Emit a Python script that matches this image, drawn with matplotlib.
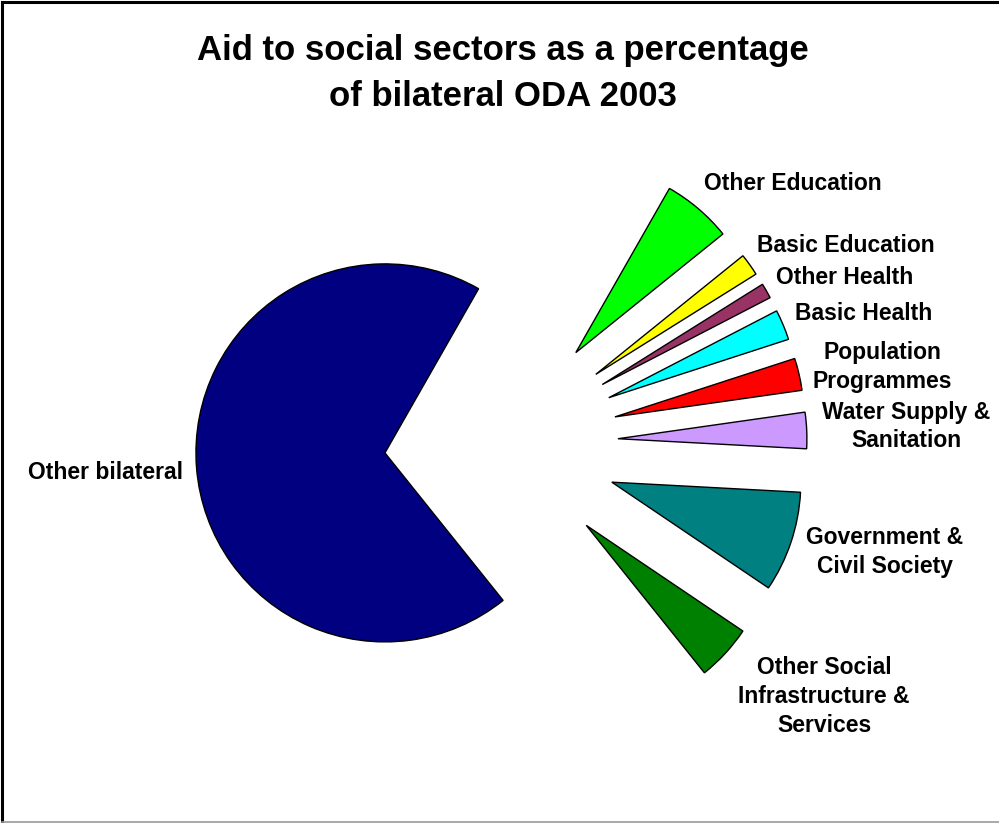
import matplotlib
matplotlib.use("Agg")
import matplotlib.pyplot as plt
from matplotlib.lines import Line2D

# ---- data (percent of bilateral ODA 2003) ----
categories = [
    "Other bilateral",
    "Other Social\nInfrastructure &\nServices",
    "Government &\nCivil Society",
    "Water Supply &\nSanitation",
    "Population\nProgrammes",
    "Basic Health",
    "Other Health",
    "Basic Education",
    "Other Education",
]
values = [69.0, 4.8, 8.6, 3.1, 2.75, 2.6, 1.3, 1.9, 5.95]
colors = ["#000080", "#008000", "#008080", "#CC99FF", "#FF0000",
          "#00FFFF", "#993366", "#FFFF00", "#00FF00"]
explode = [0.6, 0.635, 0.635, 0.635, 0.635, 0.635, 0.635, 0.635, 0.635]
title = "Aid to social sectors as a percentage\nof bilateral ODA 2003"

# label centers in pixel coordinates (layout)
label_pos = [(105, 472), (824, 696.5), (885, 552), (906, 426.5), (882, 367),
             (864, 313), (845, 277), (846, 246), (792.5, 183)]

W, H = 999, 823
CX, CY, R = 498, 444, 189

fig = plt.figure(figsize=(W / 100, H / 100), dpi=100)
fig.patch.set_facecolor("white")
ax = fig.add_axes([0, 0, 1, 1])

wedges, _ = ax.pie(values, colors=colors, explode=explode, startangle=60.3,
                   counterclock=True, radius=1.0,
                   wedgeprops=dict(edgecolor="black", linewidth=1.0))
ax.set_aspect("auto")
ax.set_xlim(-CX / R, (W - CX) / R)
ax.set_ylim(-(H - CY) / R, CY / R)
ax.axis("off")

def px2d(x, y):
    return (x - CX) / R, (CY - y) / R

font = "Liberation Sans"
for lab, (x, y) in zip(categories, label_pos):
    dx, dy = px2d(x, y)
    ax.text(dx, dy, lab, ha="center", va="center", fontsize=16.5,
            fontweight="bold", family=font, linespacing=1.33, color="black")

fig.text(503 / W, 1 - 73.5 / H, title, ha="center", va="center",
         fontsize=25, fontweight="bold", family=font, linespacing=1.52)

# outer frame
fig.add_artist(Line2D([2 / W, 2 / W], [1 - 2 / H, 1 - 822 / H], color="black",
                      linewidth=2.2, transform=fig.transFigure))
fig.add_artist(Line2D([2 / W, 1], [1 - 2 / H, 1 - 2 / H], color="black",
                      linewidth=2.2, transform=fig.transFigure))
fig.add_artist(Line2D([2 / W, 1], [1 - 821.5 / H, 1 - 821.5 / H], color="#999999",
                      linewidth=1.2, transform=fig.transFigure))

fig.savefig("out.png", dpi=100, facecolor="white")
